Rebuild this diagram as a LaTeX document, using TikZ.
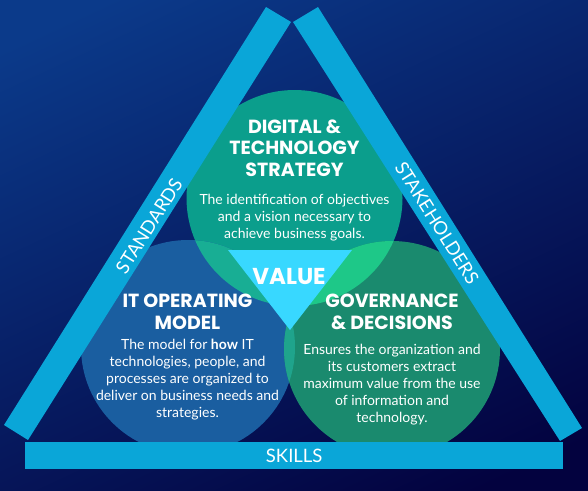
\documentclass[tikz,border=0pt]{standalone}
\usepackage{fontspec}
\setmainfont{Lato}
\newfontfamily\titlefont{Poppins}
\usetikzlibrary{shapes.geometric}
\definecolor{bgtop}{HTML}{0B3A8A}
\definecolor{bgbot}{HTML}{03023F}
\definecolor{barc}{HTML}{0AA6D8}
\definecolor{topc}{HTML}{0B9E8C}
\definecolor{leftc}{HTML}{1A5EA0}
\definecolor{rightc}{HTML}{1A8A6E}
\definecolor{tlc}{HTML}{18AE94}
\definecolor{trc}{HTML}{1EC888}
\definecolor{lrc}{HTML}{1FA48C}
\definecolor{valc}{HTML}{38D8FF}
\tikzset{
  ttl/.style={text=white, align=center, font=\titlefont\bfseries\fontsize{19}{21.5}\selectfont, inner sep=0pt},
  body/.style={text=white, align=center, font=\fontsize{14}{17}\selectfont, inner sep=0pt},
  barlabel/.style={text=white, font=\fontsize{18.5}{20}\selectfont, inner sep=0pt},
  barfill/.style={fill=barc, draw=none},
}
\begin{document}
\begin{tikzpicture}[x=1pt,y=-1pt]
\useasboundingbox (0,0) rectangle (588,490);
\shade[top color=bgtop, bottom color=bgbot, shading angle=25] (-40,-40) rectangle (628,530);
% circles
\coordinate (ct) at (294.5,198);
\coordinate (cl) at (188,347);
\coordinate (cr) at (392,349);
\fill[topc] (ct) circle[radius=108];
\fill[leftc] (cl) circle[radius=107];
\fill[rightc] (cr) circle[radius=108];
\begin{scope}
  \clip (ct) circle[radius=108];
  \fill[tlc] (cl) circle[radius=107];
\end{scope}
\begin{scope}
  \clip (ct) circle[radius=108];
  \fill[trc] (cr) circle[radius=108];
\end{scope}
\begin{scope}
  \clip (cl) circle[radius=107];
  \fill[lrc] (cr) circle[radius=108];
\end{scope}
% value triangle
\coordinate (v1) at (228,250);
\coordinate (v2) at (352,250);
\coordinate (v3) at (290,330);
\fill[valc] (v1) -- (v2) -- (v3) -- cycle;
% bars
\coordinate (l1) at (266,7); \coordinate (l2) at (291,22);
\coordinate (l3) at (28,440); \coordinate (l4) at (4,425);
\fill[barfill] (l1) -- (l2) -- (l3) -- (l4) -- cycle;
\coordinate (r1) at (293,22); \coordinate (r2) at (318,7);
\coordinate (r3) at (582,428); \coordinate (r4) at (560,441);
\fill[barfill] (r1) -- (r2) -- (r3) -- (r4) -- cycle;
\node[barfill, minimum width=538, minimum height=27, inner sep=0pt, anchor=north west] (skillsbar) at (25,442) {};
% texts
\node[barlabel] (skills) at (skillsbar.center) {SKILLS};
\node[barlabel, rotate=57.8] (standards) at (149,226) {STANDARDS};
\node[barlabel, rotate=-57.8] (stake) at (437,223) {STAKEHOLDERS};
\node[ttl] (ttop) at (294.5,148) {DIGITAL \&\\TECHNOLOGY\\STRATEGY};
\node[body] (btop) at (294.5,218) {The identification of objectives\\and a vision necessary to\\achieve business goals.};
\node[ttl, font=\titlefont\bfseries\fontsize{23}{25}\selectfont] (value) at (289,277) {VALUE};
\node[ttl] (tleft) at (187.5,312) {IT OPERATING\\MODEL};
\node[body] (bleft) at (187.5,380) {The model for \textbf{how} IT\\technologies, people, and\\processes are organized to\\deliver on business needs and\\strategies.};
\node[ttl] (tright) at (392,312) {GOVERNANCE\\\& DECISIONS};
\node[body] (bright) at (392,385) {Ensures the organization and\\its customers extract\\maximum value from the use\\of information and\\technology.};
\end{tikzpicture}
\end{document}
